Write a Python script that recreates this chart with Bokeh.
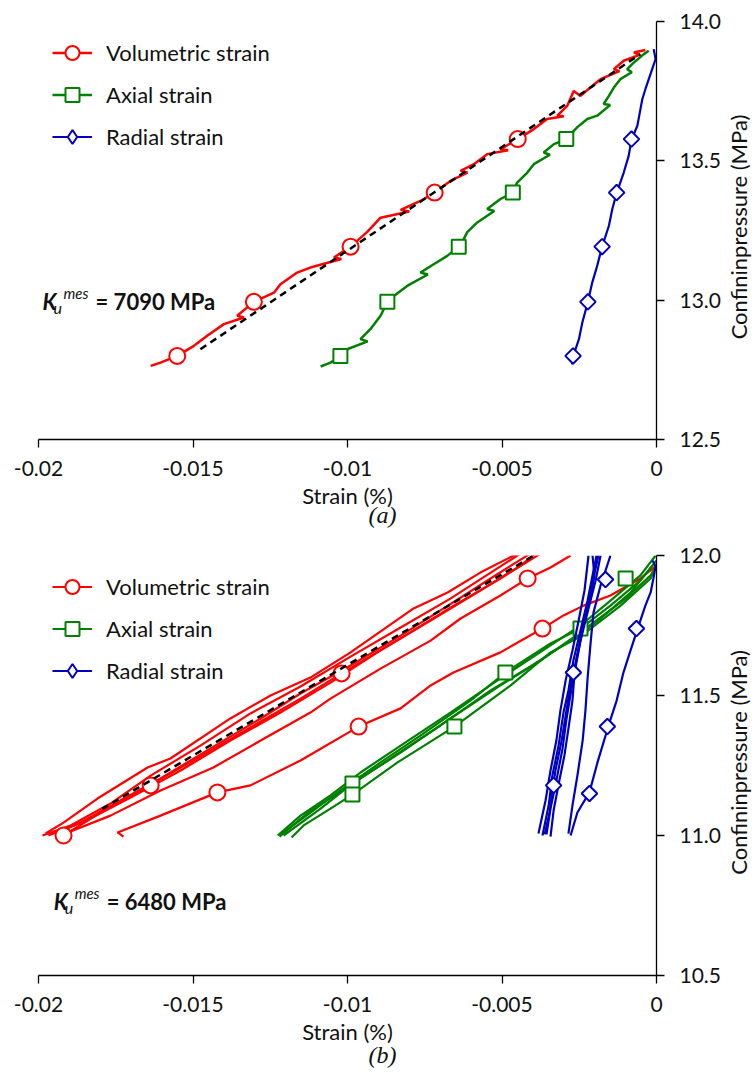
import math
from bokeh.plotting import figure
from bokeh.models import (Label, Legend, LegendItem, FixedTicker, CustomJSTickFormatter,
                          PrintfTickFormatter, Range1d, Title)
from bokeh.layouts import column, row
from bokeh.embed import file_html
from bokeh.resources import INLINE

# ---------------- data ----------------
x_ticks = [-0.02, -0.015, -0.01, -0.005, 0.0]
a_y_ticks = [12.5, 13.0, 13.5, 14.0]
b_y_ticks = [10.5, 11.0, 11.5, 12.0]
series_names = ["Volumetric strain", "Axial strain", "Radial strain"]
y_title = "Confininpressure (MPa)"
x_title = "Strain (%)"

# panel (a) – single loading branch
a_vol_x = [-0.00036, -0.00073, -0.00055, -0.00106, -0.00138, -0.00120, -0.00181, -0.00214, -0.00246,
           -0.00268, -0.00289, -0.00321, -0.00300, -0.00354, -0.00397, -0.00449, -0.00505, -0.00480,
           -0.00548, -0.00591, -0.00634, -0.00612, -0.00667, -0.00718, -0.00764, -0.00828, -0.00800,
           -0.00893, -0.00936, -0.00990, -0.01044, -0.01020, -0.01120, -0.01163, -0.01217, -0.01238,
           -0.01303, -0.01357, -0.01335, -0.01400, -0.01454, -0.01497, -0.01551, -0.01605, -0.01637]
a_vol_y = [13.898, 13.889, 13.880, 13.859, 13.829, 13.822, 13.793, 13.763, 13.733,
           13.751, 13.697, 13.662, 13.660, 13.650, 13.614, 13.578, 13.542, 13.538,
           13.524, 13.488, 13.464, 13.458, 13.428, 13.386, 13.356, 13.324, 13.318,
           13.296, 13.245, 13.192, 13.153, 13.148, 13.117, 13.099, 13.057, 13.027,
           12.994, 12.944, 12.938, 12.914, 12.872, 12.836, 12.800, 12.776, 12.764]
a_ax_x = [-0.00025, -0.00041, -0.00073, -0.00095, -0.00080, -0.00117, -0.00138, -0.00154, -0.00171,
          -0.00150, -0.00192, -0.00224, -0.00257, -0.00292, -0.00332, -0.00365, -0.00345, -0.00397,
          -0.00418, -0.00451, -0.00465, -0.00505, -0.00548, -0.00525, -0.00580, -0.00613, -0.00624,
          -0.00640, -0.00677, -0.00721, -0.00764, -0.00740, -0.00807, -0.00850, -0.00871, -0.00893,
          -0.00926, -0.00958, -0.00935, -0.01001, -0.01023, -0.01055, -0.01087]
a_ax_y = [13.895, 13.883, 13.853, 13.829, 13.818, 13.793, 13.763, 13.733, 13.704,
          13.700, 13.662, 13.650, 13.620, 13.578, 13.560, 13.530, 13.522, 13.488,
          13.458, 13.422, 13.386, 13.363, 13.327, 13.320, 13.279, 13.243, 13.219,
          13.192, 13.159, 13.129, 13.099, 13.092, 13.051, 13.015, 12.994, 12.944,
          12.896, 12.860, 12.852, 12.824, 12.799, 12.776, 12.762]
a_rad_x = [-0.00009, -0.00003, -0.00014, -0.00025, -0.00036, -0.00046, -0.00054, -0.00062, -0.00081,
           -0.00090, -0.00106, -0.00129, -0.00143, -0.00154, -0.00176, -0.00192, -0.00208, -0.00222,
           -0.00240, -0.00251, -0.00270, -0.00273]
a_rad_y = [13.901, 13.865, 13.829, 13.793, 13.757, 13.721, 13.673, 13.626, 13.575,
           13.518, 13.458, 13.384, 13.327, 13.267, 13.192, 13.123, 13.063, 12.994,
           12.920, 12.860, 12.798, 12.770]
a_mk_y = [13.578, 13.386, 13.192, 12.994, 12.800]
a_vol_mk_x = [-0.00449, -0.00718, -0.00990, -0.01303, -0.01551]
a_ax_mk_x = [-0.00292, -0.00465, -0.00640, -0.00871, -0.01023]
a_rad_mk_x = [-0.00081, -0.00129, -0.00176, -0.00222, -0.00270]
a_fit_x = [-0.01476, -0.00052]
a_fit_y = [12.824, 13.883]
a_K_text = "= 7090 MPa"

# panel (b) – several cycles
b_vol_x = [
    [-0.01977, -0.01919, -0.01809, -0.01647, -0.01573, -0.01379, -0.01249, -0.01120, -0.00990, -0.00786, -0.00676, -0.00570, -0.00450],
    [-0.01987, -0.01896, -0.01767, -0.01637, -0.01476, -0.01314, -0.01152, -0.00990, -0.00828, -0.00667, -0.00505, -0.00440],
    [-0.01968, -0.01864, -0.01735, -0.01605, -0.01443, -0.01281, -0.01152, -0.00990, -0.00828, -0.00699, -0.00537, -0.00408],
    [-0.01919, -0.01799, -0.01637, -0.01476, -0.01314, -0.01152, -0.01019, -0.00828, -0.00667, -0.00505, -0.00375],
    [-0.01945, -0.01832, -0.01702, -0.01540, -0.01379, -0.01217, -0.01055, -0.00893, -0.00731, -0.00570, -0.00440, -0.00392],
    [-0.01929, -0.01767, -0.01605, -0.01434, -0.01281, -0.01120, -0.01055, -0.00893, -0.00731, -0.00634, -0.00505, -0.00417, -0.00343, -0.00278],
    [-0.01725, -0.01744, -0.01605, -0.01421, -0.01314, -0.01152, -0.00964, -0.00828, -0.00731, -0.00657, -0.00505, -0.00369, -0.00301, -0.00236, -0.00149, -0.00052, -0.00003],
]
b_vol_y = [
    [11.007, 11.046, 11.132, 11.243, 11.275, 11.418, 11.500, 11.564, 11.654, 11.811, 11.868, 11.939, 12.007],
    [11.000, 11.036, 11.114, 11.214, 11.321, 11.436, 11.532, 11.639, 11.743, 11.846, 11.961, 12.007],
    [11.000, 11.046, 11.125, 11.204, 11.311, 11.418, 11.507, 11.607, 11.714, 11.804, 11.918, 12.007],
    [11.000, 11.082, 11.182, 11.282, 11.386, 11.489, 11.579, 11.704, 11.814, 11.918, 12.007],
    [11.007, 11.061, 11.136, 11.232, 11.339, 11.439, 11.546, 11.661, 11.768, 11.875, 11.964, 12.007],
    [11.000, 11.071, 11.161, 11.243, 11.339, 11.439, 11.489, 11.596, 11.696, 11.775, 11.857, 11.918, 11.957, 12.000],
    [10.996, 11.011, 11.071, 11.154, 11.179, 11.268, 11.389, 11.454, 11.536, 11.582, 11.654, 11.739, 11.786, 11.821, 11.857, 11.918, 11.961],
]
b_ax_x = [
    [-0.01226, -0.01152, -0.01055, -0.00958, -0.00828, -0.00667, -0.00505, -0.00343, -0.00246, -0.00149, -0.00052, -0.00003],
    [-0.01217, -0.01136, -0.01023, -0.00893, -0.00764, -0.00602, -0.00489, -0.00343, -0.00246, -0.00149, -0.00052, 0.0],
    [-0.01207, -0.01087, -0.00984, -0.00828, -0.00667, -0.00505, -0.00375, -0.00246, -0.00100, -0.00019, 0.0],
    [-0.01220, -0.01120, -0.01006, -0.00861, -0.00699, -0.00537, -0.00408, -0.00278, -0.00181, -0.00084, -0.00013],
    [-0.01181, -0.01142, -0.01055, -0.00984, -0.00838, -0.00654, -0.00472, -0.00343, -0.00246, -0.00116, -0.00019, -0.00003],
]
b_ax_y = [
    [11.000, 11.071, 11.143, 11.225, 11.321, 11.439, 11.561, 11.679, 11.750, 11.839, 11.929, 12.000],
    [11.004, 11.068, 11.161, 11.261, 11.357, 11.482, 11.582, 11.686, 11.739, 11.821, 11.911, 11.982],
    [11.000, 11.096, 11.186, 11.296, 11.418, 11.536, 11.625, 11.725, 11.846, 11.929, 11.964],
    [10.996, 11.089, 11.168, 11.275, 11.393, 11.518, 11.604, 11.696, 11.775, 11.868, 11.964],
    [10.993, 11.036, 11.096, 11.146, 11.261, 11.389, 11.536, 11.654, 11.711, 11.821, 11.918, 11.961],
]
b_rad_x = [
    [-0.00382, -0.00359, -0.00343, -0.00324, -0.00311, -0.00294, -0.00272, -0.00252, -0.00233, -0.00220],
    [-0.00369, -0.00349, -0.00337, -0.00317, -0.00301, -0.00285, -0.00269, -0.00246, -0.00223, -0.00207, -0.00194],
    [-0.00356, -0.00343, -0.00324, -0.00304, -0.00291, -0.00275, -0.00259, -0.00236, -0.00214, -0.00197, -0.00188],
    [-0.00343, -0.00333, -0.00317, -0.00298, -0.00285, -0.00272, -0.00265, -0.00246, -0.00220, -0.00197, -0.00181],
    [-0.00362, -0.00346, -0.00337, -0.00327, -0.00307, -0.00294, -0.00278, -0.00256, -0.00236, -0.00214, -0.00201, -0.00207],
    [-0.00285, -0.00272, -0.00256, -0.00239, -0.00230, -0.00223, -0.00214, -0.00204, -0.00181, -0.00165, -0.00149],
    [-0.00278, -0.00256, -0.00217, -0.00191, -0.00155, -0.00129, -0.00107, -0.00084, -0.00061, -0.00036, -0.00019, -0.00010, -0.00003, -0.00013],
]
b_rad_y = [
    [11.007, 11.125, 11.232, 11.339, 11.446, 11.554, 11.661, 11.768, 11.875, 12.000],
    [11.000, 11.107, 11.214, 11.321, 11.439, 11.518, 11.625, 11.732, 11.839, 11.929, 12.000],
    [11.004, 11.096, 11.196, 11.311, 11.418, 11.525, 11.632, 11.761, 11.868, 11.954, 12.000],
    [10.996, 11.089, 11.182, 11.286, 11.382, 11.482, 11.582, 11.696, 11.811, 11.911, 12.000],
    [11.004, 11.082, 11.161, 11.232, 11.339, 11.429, 11.536, 11.643, 11.750, 11.846, 11.929, 12.000],
    [11.007, 11.107, 11.214, 11.339, 11.446, 11.561, 11.679, 11.796, 11.893, 11.946, 12.000],
    [11.000, 11.082, 11.154, 11.261, 11.393, 11.482, 11.582, 11.661, 11.739, 11.821, 11.868, 11.918, 11.961, 11.982],
]
b_vol_mk_x = [-0.01919, -0.01637, -0.01019, -0.00417, -0.01421, -0.00964, -0.00369]
b_vol_mk_y = [11.000, 11.179, 11.579, 11.918, 11.154, 11.389, 11.739]
b_ax_mk_x = [-0.00984, -0.00489, -0.00246, -0.00100, -0.00984, -0.00654]
b_ax_mk_y = [11.186, 11.582, 11.739, 11.918, 11.146, 11.389]
b_rad_mk_x = [-0.00333, -0.00269, -0.00165, -0.00217, -0.00159, -0.00065]
b_rad_mk_y = [11.179, 11.582, 11.914, 11.150, 11.389, 11.739]
b_fit_x = [-0.01794, -0.00375]
b_fit_y = [11.095, 12.014]
b_K_text = "= 6480 MPa"

# ---------------- styling ----------------
RED, GREEN, BLUE = "#FF0000", "#008000", "#0000C0"
FONT = "Lato"
INK = "#111111"
LW_A, LW_B = 2.5, 2.2
MAIN_W, SIDE_W = 725, 30


def style_axes(p, y_ticks, cap, cap_shift):
    p.grid.visible = False
    p.outline_line_color = None
    xa, ya = p.xaxis[0], p.yaxis[0]
    xa.ticker = FixedTicker(ticks=x_ticks)
    xa.formatter = CustomJSTickFormatter(code="return String(Math.round(tick*1000)/1000);")
    ya.ticker = FixedTicker(ticks=y_ticks)
    ya.formatter = PrintfTickFormatter(format="%.1f")
    for ax in (xa, ya):
        ax.axis_line_color = "black"
        ax.axis_line_width = 1.3
        ax.major_tick_line_color = "black"
        ax.major_tick_line_width = 1.3
        ax.major_tick_out = 8
        ax.major_tick_in = 0
        ax.minor_tick_line_color = None
        ax.major_label_text_font = FONT
        ax.major_label_text_font_size = "21px"
        ax.major_label_text_color = INK
    xa.major_label_standoff = 13
    xa.axis_label = x_title
    xa.axis_label_text_font = FONT
    xa.axis_label_text_font_style = "normal"
    xa.axis_label_text_color = INK
    xa.axis_label_text_font_size = "22px"
    xa.axis_label_standoff = 3
    ya.major_label_standoff = 15
    t = Title(text=cap, align="left", offset=330, vertical_align="top", standoff=cap_shift,
              text_font="Liberation Serif", text_font_style="italic", text_font_size="24px",
              text_color=INK)
    p.add_layout(t, "below")


def side_label(height, y_center):
    # narrow strip to the right of the y axis that carries the rotated axis title
    s = figure(width=SIDE_W, height=height, x_range=Range1d(MAIN_W, MAIN_W + SIDE_W),
               y_range=Range1d(height, 0), x_axis_type=None, y_axis_type=None,
               output_backend="svg", toolbar_location=None, min_border=0,
               min_border_left=0, min_border_right=0, min_border_top=0, min_border_bottom=0)
    s.grid.visible = False
    s.outline_line_color = None
    s.add_layout(Label(x=MAIN_W + 13, y=y_center, text=y_title, angle=math.pi / 2,
                       text_align="center", text_baseline="middle", text_font=FONT,
                       text_font_size="22px", text_color=INK))
    return s


def add_legend(p, rends):
    items = [LegendItem(label=n, renderers=r) for n, r in zip(series_names, rends)]
    lg = Legend(items=items, location="top_left", margin=14, padding=0, spacing=7,
                glyph_width=40, glyph_height=35, label_height=35, label_standoff=14,
                label_text_font=FONT, label_text_font_size="22px", label_text_color=INK,
                background_fill_alpha=0, border_line_color=None)
    p.add_layout(lg)


def add_k(p, kx, ky, ktext):
    p.add_layout(Label(x=kx, y=ky, text="K", text_font=FONT, text_font_style="bold italic",
                       text_font_size="22px", text_baseline="alphabetic", text_color=INK))
    p.add_layout(Label(x=kx, y=ky, x_offset=11, y_offset=-6, text="u", text_font=FONT,
                       text_font_style="italic", text_font_size="16px", text_baseline="alphabetic",
                       text_color=INK))
    p.add_layout(Label(x=kx, y=ky, x_offset=21, y_offset=8, text="mes", text_font=FONT,
                       text_font_style="italic", text_font_size="15px", text_baseline="alphabetic",
                       text_color=INK))
    p.add_layout(Label(x=kx, y=ky, x_offset=53, text=ktext, text_font=FONT,
                       text_font_style="bold", text_font_size="22px", text_baseline="alphabetic",
                       text_color=INK))


def markers(p, x, y, color, kind):
    if kind == "circle":
        return p.scatter(x, y, marker="circle", size=16, line_color=color, line_width=2,
                         fill_color="white")
    if kind == "square":
        return p.scatter(x, y, marker="square", size=14, line_color=color, line_width=2,
                         fill_color="white")
    return p.scatter(x, y, marker="square", size=11, angle=math.pi / 4, line_color=color,
                     line_width=2, fill_color="white")


def legend_diamond(p, color):
    # legend-only glyph (no visible point) so the legend shows a diamond
    return p.scatter([float("nan")], [float("nan")], marker="diamond", line_color=color,
                     line_width=2, fill_color="white")


# ---------------- panel (a) ----------------
HA = 539
pa = figure(width=MAIN_W, height=HA, x_range=Range1d(-0.02, 0.0), y_range=Range1d(12.5, 14.0),
            y_axis_location="right", output_backend="svg", toolbar_location=None,
            min_border_left=38, min_border_right=69, min_border_top=21, min_border_bottom=100)
style_axes(pa, a_y_ticks, "(a)", -20)
ra1 = pa.line(a_vol_x, a_vol_y, color=RED, line_width=LW_A)
ra2 = markers(pa, a_vol_mk_x, a_mk_y, RED, "circle")
ga1 = pa.line(a_ax_x, a_ax_y, color=GREEN, line_width=LW_A)
ga2 = markers(pa, a_ax_mk_x, a_mk_y, GREEN, "square")
ba1 = pa.line(a_rad_x, a_rad_y, color=BLUE, line_width=2.2)
markers(pa, a_rad_mk_x, a_mk_y, BLUE, "diamond")
ba2 = legend_diamond(pa, BLUE)
pa.line(a_fit_x, a_fit_y, color="black", line_width=2.5, line_dash="7 5")
add_legend(pa, [[ra1, ra2], [ga1, ga2], [ba1, ba2]])
add_k(pa, -0.01987, 12.996, a_K_text)
sa = side_label(HA, 265)

# ---------------- panel (b) ----------------
HB = 536
pb = figure(width=MAIN_W, height=HB, x_range=Range1d(-0.02, 0.0), y_range=Range1d(10.5, 12.0),
            y_axis_location="right", output_backend="svg", toolbar_location=None,
            min_border_left=38, min_border_right=69, min_border_top=16, min_border_bottom=100)
style_axes(pb, b_y_ticks, "(b)", -12)
rb1 = pb.multi_line(b_vol_x, b_vol_y, line_color=RED, line_width=LW_B)
rb2 = markers(pb, b_vol_mk_x, b_vol_mk_y, RED, "circle")
gb1 = pb.multi_line(b_ax_x, b_ax_y, line_color=GREEN, line_width=LW_B)
gb2 = markers(pb, b_ax_mk_x, b_ax_mk_y, GREEN, "square")
bb1 = pb.multi_line(b_rad_x, b_rad_y, line_color=BLUE, line_width=LW_B)
markers(pb, b_rad_mk_x, b_rad_mk_y, BLUE, "diamond")
bb2 = legend_diamond(pb, BLUE)
pb.line(b_fit_x, b_fit_y, color="black", line_width=2.5, line_dash="7 5")
add_legend(pb, [[rb1, rb2], [gb1, gb2], [bb1, bb2]])
add_k(pb, -0.01951, 10.766, b_K_text)
sb = side_label(HB, 803 - HA)

layout = column(row(pa, sa), row(pb, sb))
open("out.html", "w").write(file_html(layout, INLINE))
